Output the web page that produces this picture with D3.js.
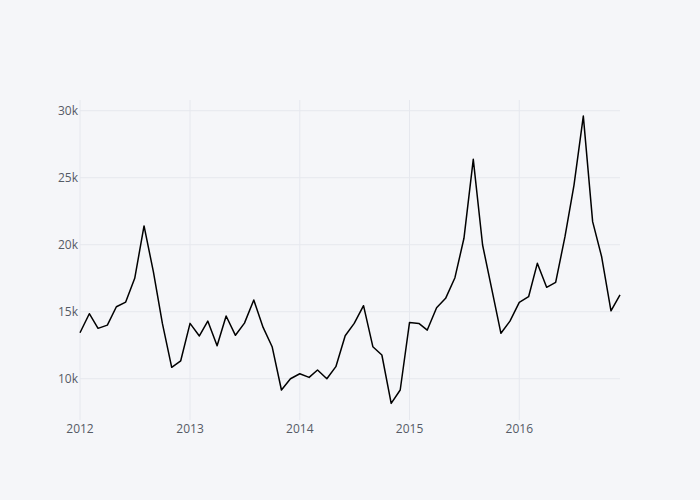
<!DOCTYPE html>
<html>
<head>
<meta charset="utf-8">
<script src="https://cdn.jsdelivr.net/npm/d3@7"></script>
<style>
  body { margin: 0; background: #f5f6f9; }
  svg { display: block; }
</style>
</head>
<body>
<script>
// monthly values, Jan 2012 .. Dec 2016
var startYear = 2012;
var values = [
  13430, 14850, 13760, 14000, 15370, 15720, 17490, 21400, 17990, 14130, 10850, 11340,
  14130, 13190, 14300, 12460, 14680, 13240, 14150, 15870, 13830, 12390, 9160, 10000,
  10370, 10100, 10650, 10000, 10900, 13210, 14130, 15450, 12390, 11770, 8160, 9160,
  14200, 14130, 13630, 15300, 16000, 17540, 20480, 26370, 19980, 16740, 13390, 14300,
  15700, 16120, 18610, 16820, 17190, 20600, 24450, 29600, 21720, 19100, 15070, 16250
];
var yTicks = [10000, 15000, 20000, 25000, 30000];
var yTickLabels = ["10k", "15k", "20k", "25k", "30k"];
var xTickYears = [2012, 2013, 2014, 2015, 2016];
var yDomain = [6920, 30800];

var data = values.map(function(v, i) {
  return { date: new Date(startYear, i, 1), value: v };
});

var width = 700, height = 500;
var margin = { top: 100, right: 80, bottom: 80, left: 80 };

var svg = d3.select("body").append("svg")
    .attr("width", width).attr("height", height)
    .style("background", "#f5f6f9")
    .style("font-family", "'Open Sans', sans-serif");

var x = d3.scaleTime()
    .domain(d3.extent(data, function(d) { return d.date; }))
    .range([margin.left, width - margin.right]);

var y = d3.scaleLinear()
    .domain(yDomain)
    .range([height - margin.bottom, margin.top]);

// horizontal grid
svg.append("g")
  .selectAll("line")
  .data(yTicks)
  .enter()
  .append("line")
  .attr("x1", margin.left).attr("x2", width - margin.right)
  .attr("y1", function(d) { return y(d); })
  .attr("y2", function(d) { return y(d); })
  .attr("stroke", "#e6e8ee").attr("stroke-width", 1);

// vertical grid
svg.append("g")
  .selectAll("line")
  .data(xTickYears)
  .enter()
  .append("line")
  .attr("x1", function(d) { return x(new Date(d, 0, 1)); })
  .attr("x2", function(d) { return x(new Date(d, 0, 1)); })
  .attr("y1", margin.top).attr("y2", height - margin.bottom)
  .attr("stroke", "#e6e8ee").attr("stroke-width", 1);

// y tick labels
svg.append("g")
  .selectAll("text")
  .data(yTicks)
  .enter()
  .append("text")
  .attr("x", margin.left - 2)
  .attr("y", function(d) { return y(d); })
  .attr("dy", "0.35em")
  .attr("text-anchor", "end")
  .attr("font-size", 12)
  .attr("fill", "#555b66")
  .text(function(d, i) { return yTickLabels[i]; });

// x tick labels
svg.append("g")
  .selectAll("text")
  .data(xTickYears)
  .enter()
  .append("text")
  .attr("x", function(d) { return x(new Date(d, 0, 1)); })
  .attr("y", height - margin.bottom + 13)
  .attr("text-anchor", "middle")
  .attr("font-size", 12)
  .attr("fill", "#555b66")
  .text(function(d) { return d; });

var line = d3.line()
    .x(function(d) { return x(d.date); })
    .y(function(d) { return y(d.value); });

svg.append("path")
  .datum(data)
  .attr("d", line)
  .attr("fill", "none")
  .attr("stroke", "#000")
  .attr("stroke-width", 1.5)
  .attr("stroke-linejoin", "round");
</script>
</body>
</html>
